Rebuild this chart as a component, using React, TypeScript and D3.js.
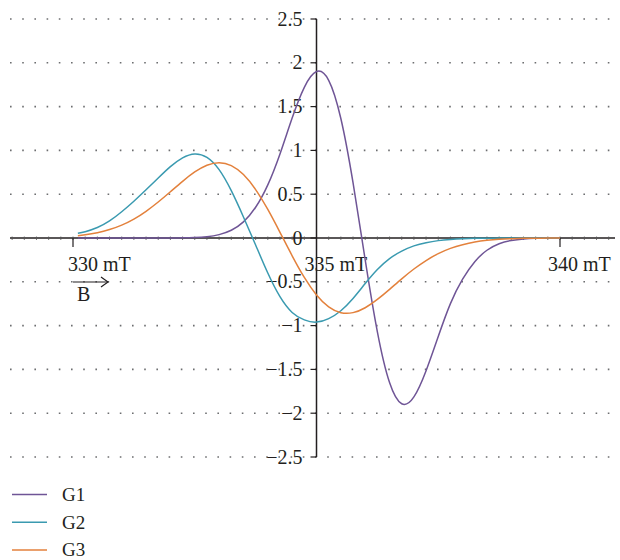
import React from "react";
import * as d3 from "d3";

const fieldMT = [
  330.1, 330.25, 330.5, 330.75, 331, 331.25, 331.5, 331.75, 332, 332.25,
  332.5, 332.75, 333, 333.25, 333.5, 333.75, 334, 334.25, 334.5, 334.75,
  335, 335.25, 335.5, 335.75, 336, 336.25, 336.5, 336.75, 337, 337.25,
  337.5, 337.75, 338, 338.25, 338.5, 338.75, 339, 339.25, 339.5, 339.75, 340,
];

const g1 = [
  0, 0, 0, 0, 0, 0, 0, 0, 0.0006, 0.0019,
  0.0056, 0.0154, 0.0386, 0.088, 0.184, 0.351, 0.607, 0.96, 1.37, 1.72,
  1.9, 1.8, 1.364, 0.631, -0.25, -1.071, -1.65, -1.892, -1.814, -1.515,
  -1.124, -0.749, -0.47, -0.27, -0.14, -0.065, -0.028, -0.011, -0.004, -0.001, 0,
];

const g2 = [
  0.054, 0.072, 0.12, 0.195, 0.3, 0.42, 0.55, 0.685, 0.815, 0.915,
  0.96, 0.92, 0.78, 0.54, 0.24, -0.08, -0.4, -0.67, -0.85, -0.935,
  -0.96, -0.92, -0.83, -0.69, -0.52, -0.36, -0.235, -0.15, -0.09, -0.053,
  -0.03, -0.017, -0.009, -0.004, -0.002, -0.001, 0, 0, 0, 0, 0,
];

const g3 = [
  0.026, 0.036, 0.06, 0.096, 0.147, 0.216, 0.305, 0.411, 0.528, 0.647,
  0.754, 0.831, 0.86, 0.827, 0.724, 0.553, 0.326, 0.065, -0.203, -0.45,
  -0.65, -0.786, -0.853, -0.852, -0.796, -0.701, -0.586, -0.466, -0.354, -0.257,
  -0.178, -0.118, -0.076, -0.046, -0.027, -0.015, -0.008, -0.004, -0.002, -0.001, 0,
];

const seriesNames = ["G1", "G2", "G3"];
const seriesColors = ["#6f5596", "#3a9ab0", "#e3813c"];
const seriesValues = [g1, g2, g3];

const yTicks = [2.5, 2, 1.5, 1, 0.5, 0, -0.5, -1, -1.5, -2, -2.5];
const xTicks = [330, 335, 340];
const xTickLabels = ["330 mT", "335 mT", "340 mT"];

const W = 620;
const H = 560;
const FONT = "'Liberation Serif', 'DejaVu Serif', serif";
const INK = "#231f20";

export default function App() {
  const x = d3.scaleLinear().domain([330, 340]).range([73, 560]);
  const y = d3.scaleLinear().domain([-2.5, 2.5]).range([457, 19]);
  const xLeft = 10;
  const xRight = 615;
  const x0 = x(335);
  const y0 = y(0);

  const line = d3
    .line<[number, number]>()
    .x((d) => x(d[0]))
    .y((d) => y(d[1]))
    .curve(d3.curveNatural);

  const minor = d3.range(328.75, 341.01, 0.25).filter((v) => x(v) >= xLeft && x(v) <= xRight);

  const fmt = (v: number) => (v < 0 ? "\u2212" + String(Math.abs(v)) : String(v));

  return (
    <svg
      width={W}
      height={H}
      style={{ position: "absolute", left: 0, top: 0, background: "#fff" }}
      fontFamily={FONT}
    >
      {/* dotted gridlines */}
      {yTicks
        .filter((t) => t !== 0)
        .map((t) => (
          <line
            key={"g" + t}
            x1={xLeft}
            x2={xRight}
            y1={y(t)}
            y2={y(t)}
            stroke="#6d6e70"
            strokeWidth={1.6}
            strokeDasharray="1.6 10.6"
          />
        ))}

      {/* y tick labels */}
      {yTicks.map((t) => (
        <text
          key={"yl" + t}
          x={x0 - 14}
          y={y(t)}
          dy="0.33em"
          textAnchor="end"
          fontSize={20}
          fill={INK}
        >
          {fmt(t)}
        </text>
      ))}

      {/* y ticks */}
      {yTicks.map((t) => (
        <line key={"yt" + t} x1={x0 - 6} x2={x0} y1={y(t)} y2={y(t)} stroke={INK} strokeWidth={1.2} />
      ))}

      {/* x axis */}
      <line x1={xLeft} x2={xRight} y1={y0} y2={y0} stroke={INK} strokeWidth={1.5} />
      {minor.map((v, i) => (
        <line key={"mn" + i} x1={x(v)} x2={x(v)} y1={y0 - 1.5} y2={y0 + 2} stroke="#555" strokeWidth={0.8} />
      ))}
      {xTicks
        .filter((t) => t !== 335)
        .map((t) => (
          <line key={"xt" + t} x1={x(t)} x2={x(t)} y1={y0} y2={y0 + 9} stroke={INK} strokeWidth={1.2} />
        ))}
      {xTicks.map((t, i) => (
        <text
          key={"xl" + t}
          x={x(t) + (t === 330 ? -5 : -12)}
          y={y0 + 33}
          fontSize={20}
          fill={INK}
        >
          {xTickLabels[i]}
        </text>
      ))}

      {/* y axis */}
      <line x1={x0} x2={x0} y1={y(2.5)} y2={y(-2.5)} stroke={INK} strokeWidth={1.5} />

      {/* field arrow */}
      <g stroke={INK} strokeWidth={1.2} fill="none">
        <line x1={x(330)} x2={x(330) + 35} y1={y0 + 44} y2={y0 + 44} />
        <polyline
          points={`${x(330) + 28},${y0 + 39} ${x(330) + 35},${y0 + 44} ${x(330) + 28},${y0 + 49}`}
        />
      </g>
      <text x={x(330) + 4} y={y0 + 63} fontSize={20} fill={INK}>
        B
      </text>

      {/* curves */}
      {seriesValues.map((vals, si) => (
        <path
          key={"s" + si}
          d={line(fieldMT.map((b, i) => [b, vals[i]] as [number, number])) || ""}
          fill="none"
          stroke={seriesColors[si]}
          strokeWidth={1.5}
        />
      ))}

      {/* legend */}
      {seriesNames.map((n, i) => {
        const ly = 494.5 + i * 27.8;
        return (
          <g key={"lg" + n}>
            <line x1={12} x2={47} y1={ly} y2={ly} stroke={seriesColors[i]} strokeWidth={1.5} />
            <text x={62} y={ly} dy="0.33em" fontSize={19} fill={INK}>
              {n}
            </text>
          </g>
        );
      })}
    </svg>
  );
}
